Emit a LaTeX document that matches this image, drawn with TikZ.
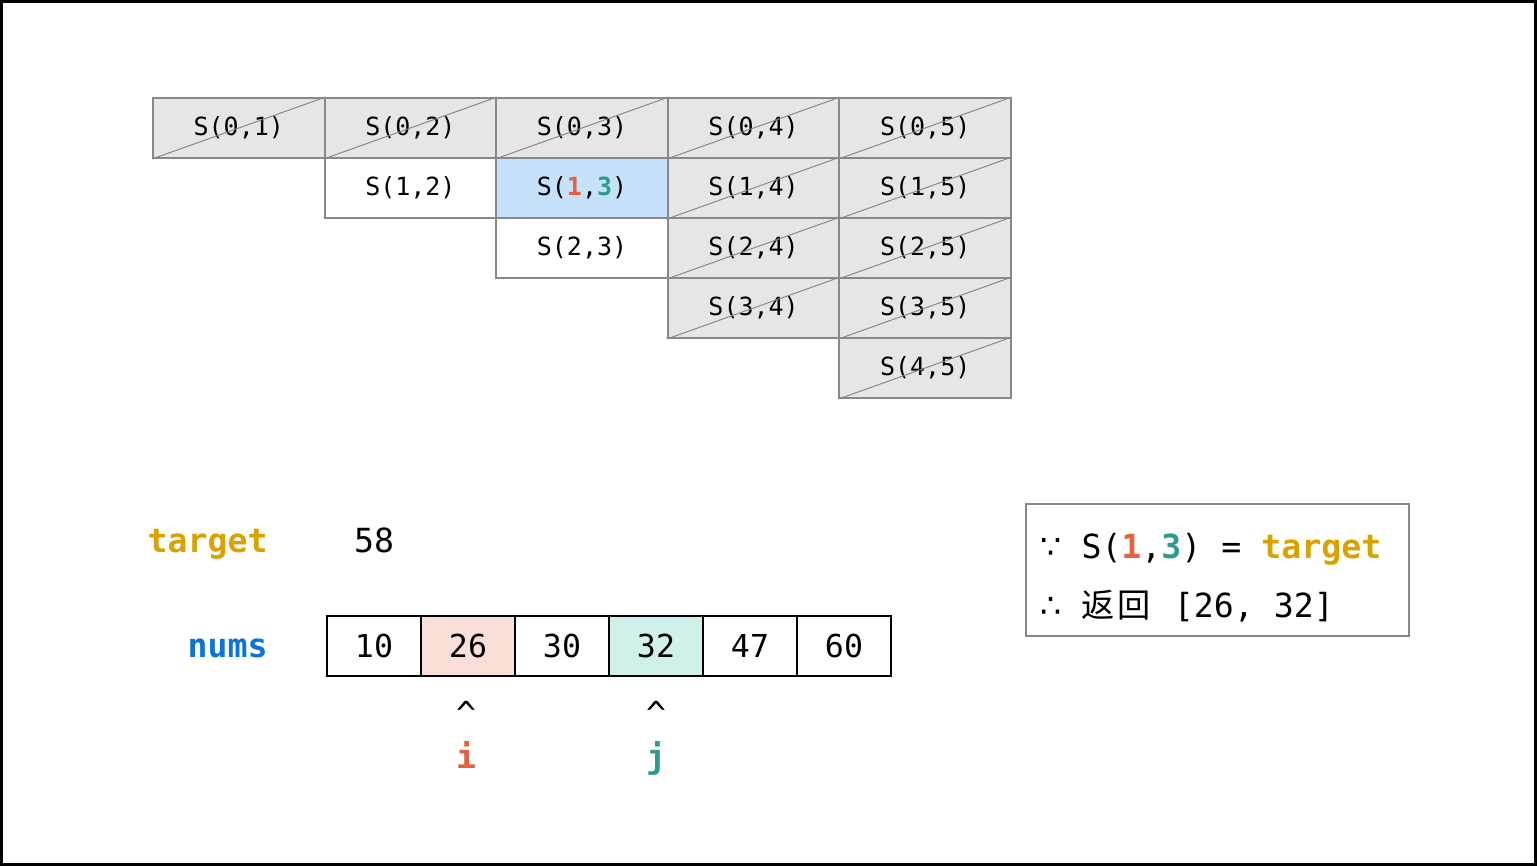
\documentclass[tikz,border=0pt]{standalone}
\usepackage{fontspec}
\setmonofont{DejaVu Sans Mono}
\newfontfamily\cjkfont{Noto Sans CJK SC}
\newfontfamily\symfont{DejaVu Sans}
\usetikzlibrary{positioning}
\definecolor{gridgray}{RGB}{136,136,136}
\definecolor{cellgray}{RGB}{230,230,230}
\definecolor{cellblue}{RGB}{198,226,250}
\definecolor{ired}{RGB}{228,96,62}
\definecolor{jteal}{RGB}{43,156,140}
\definecolor{tgold}{RGB}{218,162,0}
\definecolor{nblue}{RGB}{10,116,218}
\definecolor{ifill}{RGB}{250,223,216}
\definecolor{jfill}{RGB}{207,240,235}
\tikzset{
  scell/.style={draw=gridgray, line width=1pt, minimum width=85.8pt, minimum height=30pt,
                inner sep=0pt, font=\ttfamily\fontsize{12.5}{15}\selectfont},
  done/.style={scell, fill=cellgray},
  diag/.style={gridgray, line width=0.5pt},
  acell/.style={draw=black, line width=1pt, minimum width=47pt, minimum height=30pt,
                inner sep=0pt, font=\ttfamily\fontsize{15.8}{18}\selectfont},
  lbl/.style={font=\ttfamily\bfseries\fontsize{16.6}{20}\selectfont, inner sep=0pt},
  txt/.style={font=\ttfamily\fontsize{16.6}{20}\selectfont, inner sep=0pt},
  infobox/.style={draw=gridgray, line width=1pt, minimum width=191.5pt, minimum height=66pt, inner sep=0pt},
}
\begin{document}
\begin{tikzpicture}[x=0.5pt, y=-0.5pt]
  \useasboundingbox (0,0) rectangle (1537,866);
  \draw[line width=1.5pt] (1.5,1.5) rectangle (1535.5,864.5);

  % table of pair sums
  \foreach \i/\j in {0/1,0/2,0/3,0/4,0/5,1/4,1/5,2/4,2/5,3/4,3/5,4/5} {
    \node[done] (s\i\j) at ({67.2+171.6*\j},{128+60*\i}) {S(\i,\j)};
    \draw[diag] (s\i\j.south west) -- (s\i\j.north east);
  }
  \node[scell] (s12) at (410.4,188) {S(1,2)};
  \node[scell] (s23) at (582,248) {S(2,3)};
  \node[scell, fill=cellblue] (s13) at (582,188)
    {S(\textcolor{ired}{\bfseries 1},\textcolor{jteal}{\bfseries 3})};

  % input
  \node[lbl, text=tgold, anchor=base east] (target) at (268,552) {target};
  \node[txt, anchor=base] (tval) at (374,552) {58};
  \node[lbl, text=nblue, anchor=base east] (nums) at (268,657) {nums};
  \foreach \v/\f [count=\k from 0] in {10/white,26/ifill,30/white,32/jfill,47/white,60/white} {
    \node[acell, fill=\f] (a\k) at ({374+94*\k},646) {\v};
  }

  % pointers
  \node[txt] (ci) at (466,713) {\^{}};
  \node[txt] (cj) at (656,713) {\^{}};
  \node[lbl, text=ired, anchor=base] (pi) at (466,768) {i};
  \node[lbl, text=jteal, anchor=base] (pj) at (656,768) {j};

  % result
  \node[infobox] (box) at (1217.5,570) {};
  \node[txt, anchor=base west] (why) at (1040,558)
    {{\symfont ∵} S(\textcolor{ired}{\bfseries 1},\textcolor{jteal}{\bfseries 3}) = \textcolor{tgold}{\bfseries target}};
  \node[txt, anchor=base west] (res) at (1040,617)
    {{\symfont ∴} {\cjkfont 返\hspace{1.5pt}回}\hspace{1.5pt} [26, 32]};
\end{tikzpicture}
\end{document}
